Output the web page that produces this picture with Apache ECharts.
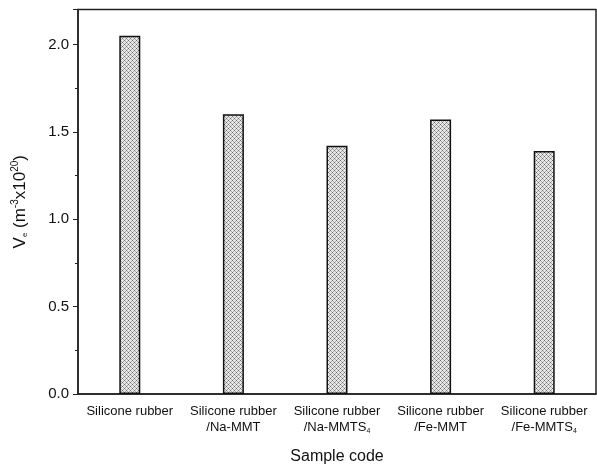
<!DOCTYPE html>
<html lang="en">
<head>
    <meta charset="UTF-8">
    <title>Ve by sample</title>
    <script src="https://cdn.jsdelivr.net/npm/echarts@6/dist/echarts.min.js"></script>
    <style>
        html, body { margin: 0; padding: 0; background: #fff; }
    </style>
</head>
<body>
    <div id="chart" style="width: 597px; height: 470px;"></div>
    <script>
        // sample names (line 1 / line 2, sub for subscript)
        var categories = [
            'Silicone rubber',
            'Silicone rubber\n/Na-MMT',
            'Silicone rubber\n/Na-MMTS{sub|4}',
            'Silicone rubber\n/Fe-MMT',
            'Silicone rubber\n/Fe-MMTS{sub|4}'
        ]
        var veValues = [2.05, 1.60, 1.42, 1.57, 1.39]
        var yTicks = [0, 0.5, 1.0, 1.5, 2.0]

        // crosshatch fill like the original plot
        function hatch() {
            var c = document.createElement('canvas')
            c.width = 4
            c.height = 4
            var ctx = c.getContext('2d')
            ctx.fillStyle = '#e8e8e8'
            ctx.fillRect(0, 0, 4, 4)
            ctx.fillStyle = '#6a6a6a'
            ctx.fillRect(0, 0, 1, 1)
            ctx.fillRect(2, 2, 1, 1)
            ctx.fillStyle = '#a8a8a8'
            ctx.fillRect(1, 1, 1, 1)
            ctx.fillRect(3, 3, 1, 1)
            ctx.fillRect(3, 1, 1, 1)
            ctx.fillRect(1, 3, 1, 1)
            return c
        }

        var font = '"Liberation Sans", Arial, sans-serif'
        var chart = echarts.init(document.getElementById('chart'))
        var option = {
            backgroundColor: '#fff',
            animation: false,
            grid: {
                left: 78, right: 1, top: 9.5, bottom: 75,
                show: true,
                borderColor: '#222',
                borderWidth: 1.5
            },
            xAxis: {
                type: 'category',
                data: categories,
                name: 'Sample code',
                nameLocation: 'middle',
                nameGap: 55,
                nameTextStyle: { fontFamily: font, fontSize: 16, color: '#111' },
                axisLine: { lineStyle: { color: '#222', width: 1.5 } },
                axisTick: { alignWithLabel: true, length: 5, lineStyle: { color: '#222' } },
                axisLabel: {
                    interval: 0,
                    margin: 9,
                    fontFamily: font,
                    fontSize: 13,
                    lineHeight: 16,
                    color: '#111',
                    rich: {
                        sub: { fontSize: 7, verticalAlign: 'bottom', padding: [6, 0, 0, 0], color: '#111', fontFamily: font }
                    }
                }
            },
            yAxis: {
                type: 'value',
                min: 0,
                max: 2.2,
                interval: 0.5,
                name: 'V{sub|e} (m{sup|-3}x10{sup|20})',
                nameLocation: 'middle',
                nameGap: 48,
                nameRotate: 90,
                nameTextStyle: {
                    fontFamily: font, fontSize: 17, color: '#111',
                    rich: {
                        sub: { fontSize: 8, padding: [10, 0, 0, 0], color: '#111', fontFamily: font },
                        sup: { fontSize: 10, padding: [0, 0, 10, 0], color: '#111', fontFamily: font }
                    }
                },
                axisLine: { show: true, lineStyle: { color: '#222', width: 1.5 } },
                axisTick: { show: true, length: 5, lineStyle: { color: '#222' } },
                minorTick: { show: true, splitNumber: 2, length: 3, lineStyle: { color: '#222' } },
                splitLine: { show: false },
                axisLabel: {
                    margin: 9,
                    fontFamily: font,
                    fontSize: 15,
                    color: '#111',
                    formatter: function (v) {
                        return yTicks.indexOf(v) >= 0 ? v.toFixed(1) : ''
                    }
                }
            },
            series: [{
                type: 'bar',
                data: veValues,
                barWidth: 21,
                itemStyle: {
                    color: { image: hatch(), repeat: 'repeat' },
                    borderColor: '#111',
                    borderWidth: 1.5
                }
            }]
        }
        chart.setOption(option)
    </script>
</body>
</html>
